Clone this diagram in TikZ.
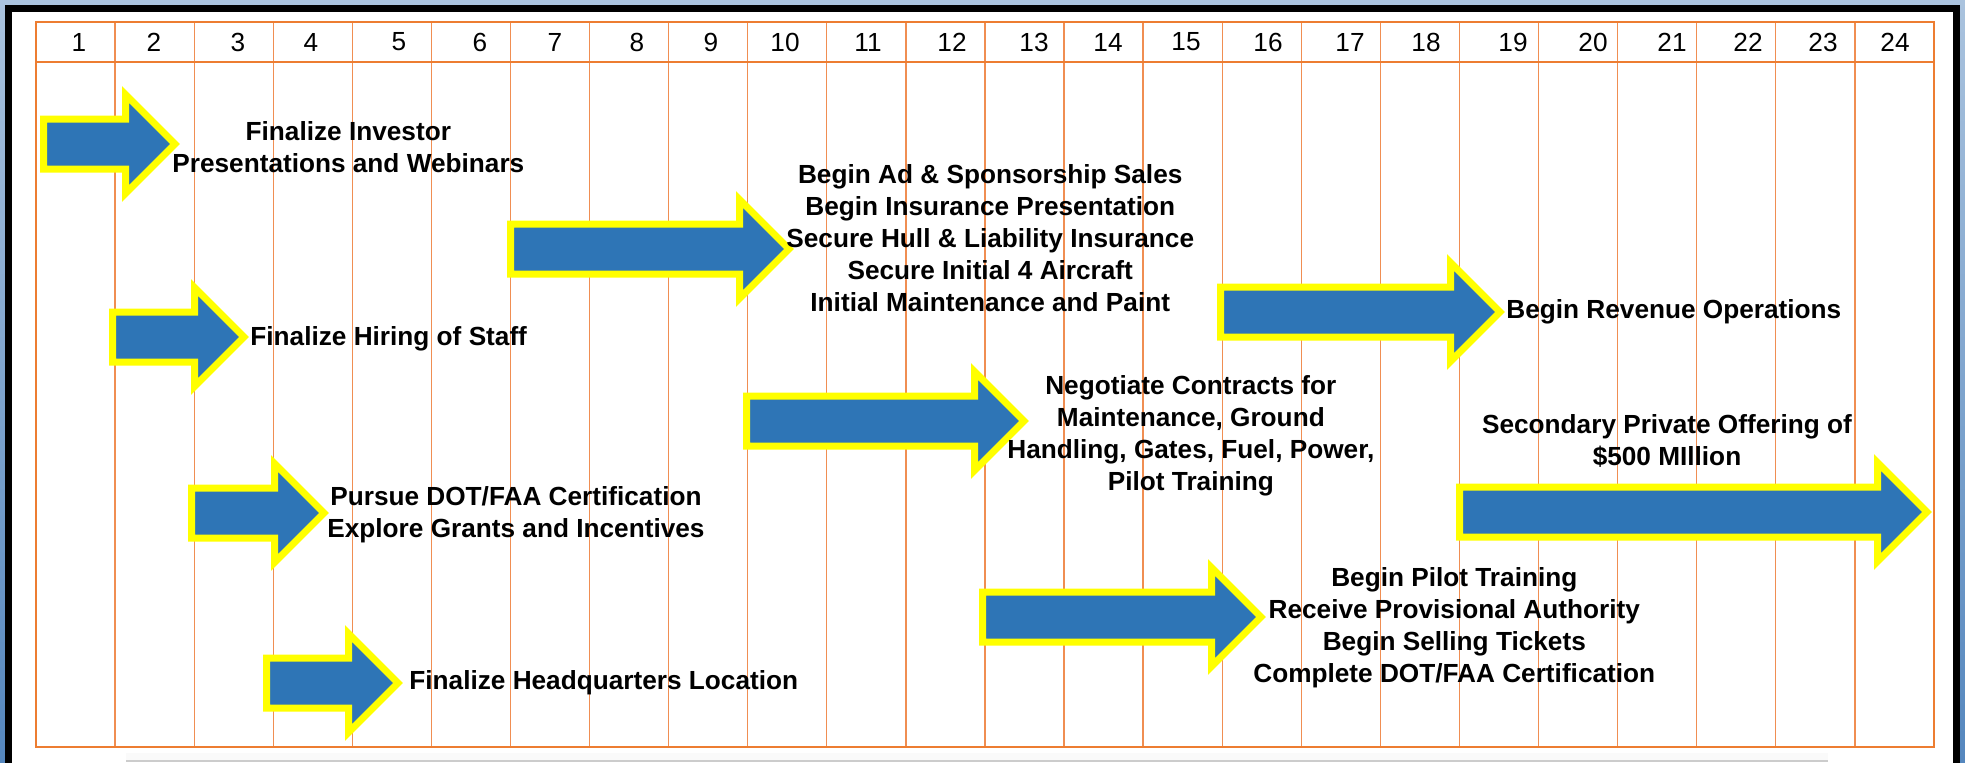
\documentclass[tikz,border=0pt]{standalone}
\usepackage{fontspec}
\setmainfont{Liberation Sans}

\definecolor{arrowblue}{RGB}{46,117,182}
\definecolor{arrowrim}{RGB}{255,255,0}
\definecolor{gridorange}{RGB}{237,125,49}
\definecolor{gridlight}{RGB}{240,142,82}
\definecolor{skytop}{RGB}{170,195,222}
\definecolor{skybottom}{RGB}{85,135,190}

\begin{document}
\begin{tikzpicture}[x=0.5pt, y=-0.5pt,
    gridline/.style={draw=gridlight, line width=0.65pt},
    gridframe/.style={draw=gridorange, line width=0.75pt},
    ganttarrow/.style={fill=arrowblue, draw=arrowrim, line width=3.5pt, miter limit=4},
    month/.style={inner sep=0pt, font=\fontsize{13.1}{16}\selectfont},
    task/.style={inner sep=0pt, align=center, font=\fontsize{13.1}{16}\selectfont\bfseries}]
      \useasboundingbox (0,0) rectangle (1965,762);
      %% \draw [help lines] (0,0) grid[step=100] (1965,762);

      \shade [top color=skytop, bottom color=skybottom] (0,0) rectangle (1965,762);
      \draw [line width=3.5pt, fill=white] (8.5,8) rectangle (1956.5,800);
      \fill [gray!4] (126,753) rectangle (1828,762);
      \draw [gray!40, line width=0.6pt] (126,761) -- (1828,761);

      % month grid
      \foreach \x in {1,2,...,23} \draw [gridline] (36+\x*79.08,22) -- (36+\x*79.08,747);
      \draw [gridframe] (36,22) rectangle (1934,747);
      \draw [gridframe, line width=1pt] (36,62) -- (1934,62);
      \foreach \n/\p in {1/79, 2/154, 3/238, 4/311, 5/399, 6/480, 7/555, 8/637,
                         9/711, 10/785, 11/868, 12/952, 13/1034, 14/1108, 15/1186, 16/1268,
                         17/1350, 18/1426, 19/1513, 20/1593, 21/1672, 22/1748, 23/1823, 24/1895}
        \node [month] (m\n) at (\p,42) {\n};

      % arrows: tail / tip / middle
      \foreach \a/\b/\y in {40/180/144, 109/249/337, 188/329/513, 263/403/683,
                            507/794/249, 743/1029/421, 979/1266/617, 1217/1505/312, 1456/1932/512}
        \draw [ganttarrow] (\a+3.5,\y-25) -- (\b-54.5,\y-25) -- (\b-54.5,\y-49.5)
          -- (\b-5,\y) -- (\b-54.5,\y+49.5) -- (\b-54.5,\y+25) -- (\a+3.5,\y+25) -- cycle;

      \node [task, anchor=west] (investor) at (172,147)
        {Finalize Investor\\Presentations and Webinars};
      \node [task, anchor=west] (hiring) at (250,339) {Finalize Hiring of Staff};
      \node [task, anchor=west] (dotfaa) at (327,514.5)
        {Pursue DOT/FAA Certification\\Explore Grants and Incentives};
      \node [task, anchor=west] (hq) at (409,683) {Finalize Headquarters Location};
      \node [task, anchor=west] (sales) at (786,238)
        {Begin Ad \& Sponsorship Sales\\Begin Insurance Presentation\\Secure Hull \& Liability Insurance\\Secure Initial 4 Aircraft\\Initial Maintenance and Paint};
      \node [task, anchor=west] (contracts) at (1007,436)
        {Negotiate Contracts for\\Maintenance, Ground\\Handling, Gates, Fuel, Power,\\Pilot Training};
      \node [task, anchor=west] (revenue) at (1506,311.5) {Begin Revenue Operations};
      \node [task, anchor=west] (pilot) at (1253,628)
        {Begin Pilot Training\\Receive Provisional Authority\\Begin Selling Tickets\\Complete DOT/FAA Certification};
      \node [task] (offering) at (1667,440.5) {Secondary Private Offering of\\\$500 MIllion};

   \end{tikzpicture}
\end{document}
